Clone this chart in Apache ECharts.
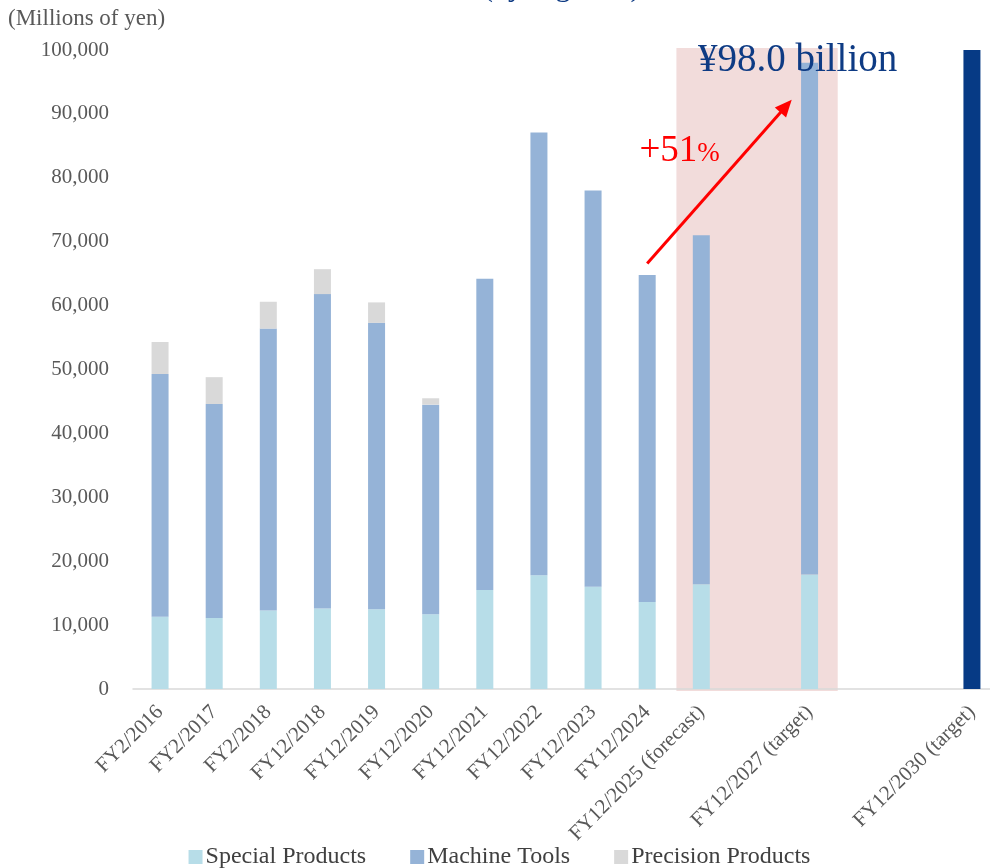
<!DOCTYPE html>
<html>
<head>
<meta charset="utf-8">
<script src="https://cdn.jsdelivr.net/npm/echarts@6/dist/echarts.min.js"></script>
<style>
  html, body { margin: 0; padding: 0; background: #ffffff; overflow: hidden; }
  /* the last category band runs slightly past the right edge of the page */
  #chart { width: 999px; height: 868px; }
</style>
</head>
<body>
<div id="chart"></div>
<script>
// Fiscal periods; blank entries keep the spacing between forecast/target years
const categories = [
  'FY2/2016', 'FY2/2017', 'FY2/2018', 'FY12/2018', 'FY12/2019', 'FY12/2020',
  'FY12/2021', 'FY12/2022', 'FY12/2023', 'FY12/2024', 'FY12/2025 (forecast)',
  ' ', 'FY12/2027 (target)', '  ', '   ', 'FY12/2030 (target)'
];

// Net sales by segment (millions of yen)
const specialProducts   = [11300, 11100, 12300, 12600, 12500, 11700, 15500, 17800, 16000, 13600, 16400, null, 17900, null, null, null];
const machineTools      = [38000, 33500, 44100, 49200, 44800, 32800, 48700, 69300, 62000, 51200, 54600, null, 80100, null, null, null];
const precisionProducts = [5000, 4200, 4200, 3900, 3200, 1000, null, null, null, null, null, null, null, null, null, null];
const longTermTarget    = [null, null, null, null, null, null, null, null, null, null, null, null, null, null, null, 100000];

// Value axis ticks
const yMin = 0;
const yMax = 100000;
const yStep = 10000;

// Highlighted plan period and growth callout
const planStart = 'FY12/2025 (forecast)';
const planEnd = 'FY12/2027 (target)';
const growthFrom = 'FY12/2024';
const growthText = '+51';

const SERIF = '"Liberation Serif", "Times New Roman", serif';
const totalAt = i => (specialProducts[i] || 0) + (machineTools[i] || 0) + (precisionProducts[i] || 0);
const planEndIdx = categories.indexOf(planEnd);

const chart = echarts.init(document.getElementById('chart'), null, { renderer: 'canvas' });

const option = {
  backgroundColor: '#ffffff',
  animation: false,
  textStyle: { fontFamily: SERIF },
  grid: { left: 133, right: 0, top: 50, bottom: 179, containLabel: false },
  graphic: [
    {
      type: 'text', left: 483, top: -27,
      style: { text: '(by segment)', font: '30px ' + SERIF, fill: '#0e3b84' }
    },
    {
      type: 'text', left: 8, top: 7,
      style: { text: '(Millions of yen)', font: '23px ' + SERIF, fill: '#595959' }
    }
  ],
  legend: {
    bottom: -6,
    left: 'center',
    icon: 'rect',
    itemWidth: 14,
    itemHeight: 14,
    itemGap: 44,
    data: ['Special Products', 'Machine Tools', 'Precision Products'],
    textStyle: { fontFamily: SERIF, fontSize: 24, color: '#404040', padding: [0, 0, 0, -2] }
  },
  xAxis: {
    type: 'category',
    data: categories,
    axisTick: { show: false },
    axisLine: { lineStyle: { color: '#d9d9d9', width: 1.5 } },
    axisLabel: {
      interval: 0, rotate: 45, margin: 20,
      fontFamily: SERIF, fontSize: 21, color: '#595959'
    }
  },
  yAxis: {
    type: 'value',
    min: yMin, max: yMax, interval: yStep,
    axisLine: { show: false },
    axisTick: { show: false },
    splitLine: { show: false },
    axisLabel: {
      margin: 24, fontFamily: SERIF, fontSize: 21, color: '#595959',
      formatter: v => v.toLocaleString('en-US')
    }
  },
  series: [
    {
      // shaded plan period behind the bars
      type: 'custom',
      z: 0,
      silent: true,
      data: [[categories.indexOf(planStart), 0]],
      renderItem: (params, api) => {
        const band = api.size([1, 0])[0];
        const top = api.coord([categories.indexOf(planStart), yMax * 1.003]);
        const bottom = api.coord([planEndIdx, 0]);
        const x0 = top[0] - band * 0.46;
        const x1 = bottom[0] + band * 0.52;
        return {
          type: 'rect',
          shape: { x: x0, y: top[1], width: x1 - x0, height: bottom[1] - top[1] + 2 },
          style: { fill: '#f2dcdb' }
        };
      }
    },
    {
      name: 'Special Products', type: 'bar', stack: 'seg', barWidth: 17, z: 2,
      itemStyle: { color: '#b7dde8' },
      data: specialProducts
    },
    {
      name: 'Machine Tools', type: 'bar', stack: 'seg', barWidth: 17, z: 2,
      itemStyle: { color: '#95b3d7' },
      label: {
        show: true, position: 'top', offset: [-12, 22],
        fontFamily: SERIF, fontSize: 39, color: '#0e3b84',
        formatter: p => p.dataIndex === planEndIdx
          ? '¥' + (totalAt(planEndIdx) / 1000).toFixed(1) + ' billion' : ''
      },
      data: machineTools
    },
    {
      name: 'Precision Products', type: 'bar', stack: 'seg', barWidth: 17, z: 2,
      itemStyle: { color: '#d9d9d9' },
      data: precisionProducts
    },
    {
      name: 'Target', type: 'bar', stack: 'seg', barWidth: 17, z: 2,
      itemStyle: { color: '#063a85' },
      data: longTermTarget
    },
    {
      // growth arrow with percentage callout
      type: 'custom',
      z: 5,
      silent: true,
      data: [[categories.indexOf(growthFrom), 0]],
      renderItem: (params, api) => {
        const band = api.size([1, 0])[0];
        const fromIdx = categories.indexOf(growthFrom);
        const start = api.coord([fromIdx, totalAt(fromIdx) + 1800]);
        const endBase = api.coord([planEndIdx - 1, totalAt(planEndIdx) - 5800]);
        const end = [endBase[0] + band * 0.67, endBase[1]];
        const dx = end[0] - start[0], dy = end[1] - start[1];
        const len = Math.sqrt(dx * dx + dy * dy);
        const ux = dx / len, uy = dy / len;
        const headLen = 17, headHalf = 7.5;
        const base = [end[0] - ux * headLen, end[1] - uy * headLen];
        const nx = -uy, ny = ux;
        const textPos = api.coord([fromIdx, 84200]);
        return {
          type: 'group',
          children: [
            {
              type: 'line',
              shape: { x1: start[0], y1: start[1], x2: base[0] + ux * 2, y2: base[1] + uy * 2 },
              style: { stroke: '#ff0000', lineWidth: 3 }
            },
            {
              type: 'polygon',
              shape: { points: [end, [base[0] + nx * headHalf, base[1] + ny * headHalf], [base[0] - nx * headHalf, base[1] - ny * headHalf]] },
              style: { fill: '#ff0000' }
            },
            {
              type: 'text',
              x: textPos[0] + band * 0.6,
              y: textPos[1],
              style: {
                text: '{n|' + growthText + '}{p|%}',
                align: 'center', verticalAlign: 'middle',
                rich: {
                  n: { fontFamily: SERIF, fontSize: 37, fill: '#ff0000', color: '#ff0000' },
                  p: { fontFamily: SERIF, fontSize: 27, fill: '#ff0000', color: '#ff0000', padding: [6, 0, 0, 0] }
                }
              }
            }
          ]
        };
      }
    }
  ]
};

chart.setOption(option);
</script>
</body>
</html>
